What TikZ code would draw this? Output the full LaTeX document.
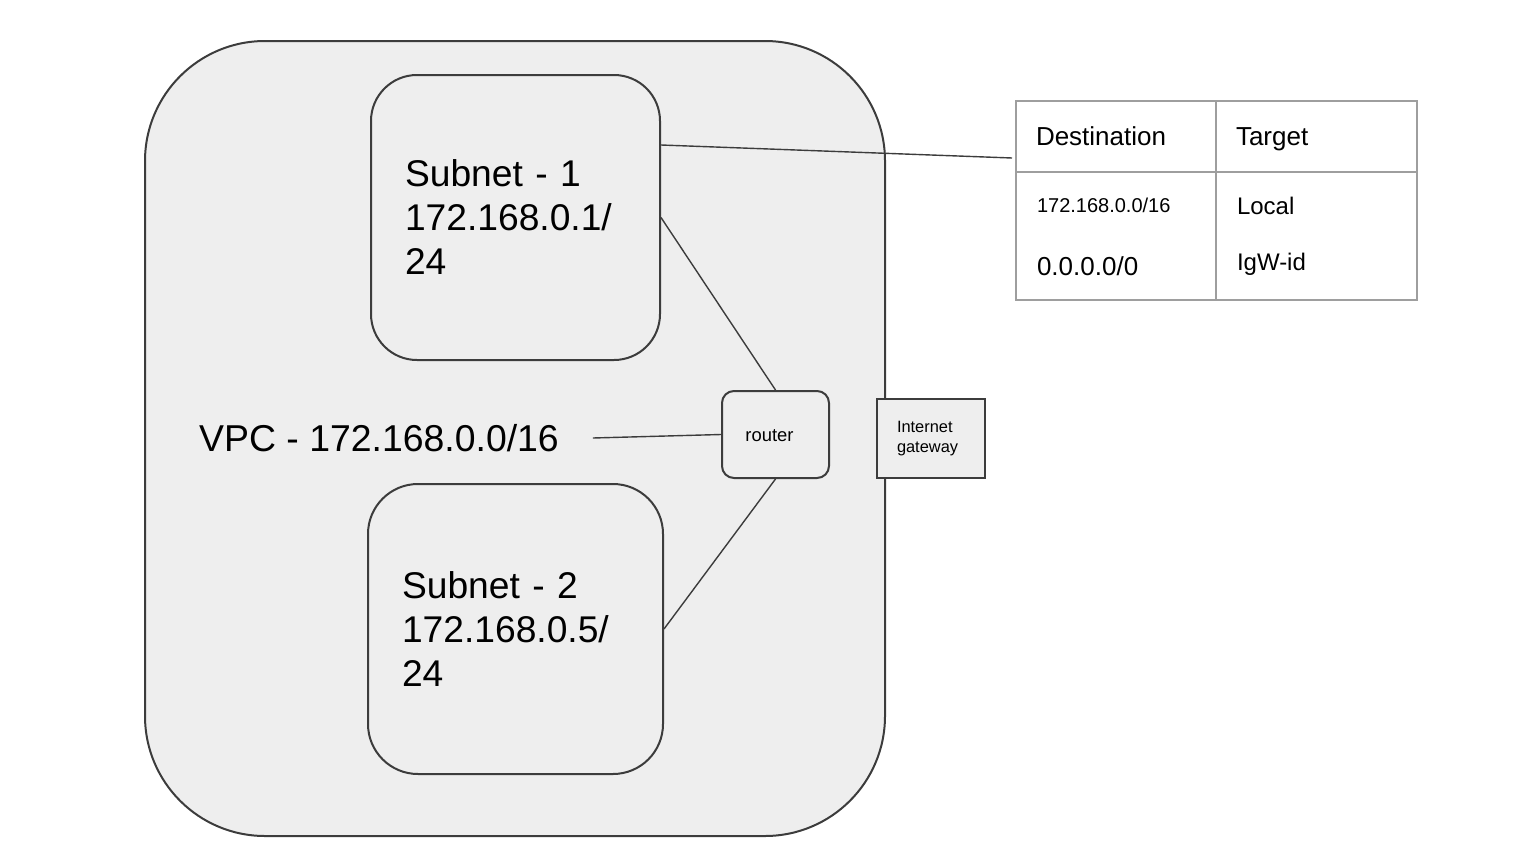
\documentclass[tikz,border=0pt]{standalone}
\usepackage{fontspec}
\setmainfont{Liberation Sans}
\usetikzlibrary{positioning}
\definecolor{boxfill}{HTML}{EEEEEE}
\definecolor{boxline}{HTML}{3C3C3C}
\definecolor{tblline}{HTML}{9E9E9E}

\begin{document}
\begin{tikzpicture}[x=0.5pt, y=-0.5pt, line width=1pt, node distance=0pt,
    zone/.style={draw=boxline, fill=boxfill},
    subnet/.style={zone, inner xsep=17pt, inner ysep=0pt, align=left, font=\fontsize{18.6}{22}\selectfont},
    link/.style={draw=boxline, line width=0.7pt},
    cell/.style={draw=tblline, line width=0.8pt, outer sep=0pt, inner xsep=10pt, inner ysep=0pt, align=left,
        text height=9.4pt, text depth=0pt, font=\fontsize{13}{15}\selectfont},
    entry/.style={anchor=base west, inner sep=0pt, font=\fontsize{12}{14}\selectfont}]
    \useasboundingbox (0,0) rectangle (1525,846);

    % VPC
    \node[zone, rounded corners=60pt, minimum width=370pt, minimum height=397.5pt] (vpc) at (515,438.5) {};
    \node[font=\fontsize{18.7}{22}\selectfont, inner xsep=16.5pt] (vpclbl) at (379,438) {VPC - 172.168.0.0/16};

    % Subnets
    \node[subnet, rounded corners=23pt, text width=110.5pt, minimum height=142.5pt] (sub1) at (515.5,217.5) {Subnet - 1\\172.168.0.1/\\24};
    \node[subnet, rounded corners=25pt, text width=113.5pt, minimum height=145pt] (sub2) at (515.5,629) {Subnet - 2\\172.168.0.5/\\24};

    % Router and gateway
    \node[zone, rounded corners=6pt, minimum width=53.5pt, minimum height=43.5pt, text height=7pt, text depth=0pt, font=\fontsize{9.2}{11}\selectfont] (router) at (775.5,434.5) {router\kern6pt\relax};
    \node[zone, minimum height=39.5pt, inner xsep=10pt, text width=34pt, align=left, font=\fontsize{8.2}{10}\selectfont] (igw) at (931,438.5) {Internet\\gateway};

    % Route table
    \node[cell, text width=80pt, minimum height=35.5pt, anchor=north west] (hdest) at (1016,101) {Destination};
    \node[cell, text width=80.5pt, minimum height=35.5pt, right=of hdest] (htgt) {Target};
    \node[cell, text width=80pt, minimum height=64pt, below=of hdest] (bdest) {};
    \node[cell, text width=80.5pt, minimum height=64pt, below=of htgt] (btgt) {};
    \node[entry, font=\fontsize{10}{12}\selectfont] (net1) at (1036,212) {172.168.0.0/16};
    \node[entry, font=\fontsize{13}{15}\selectfont] (net2) at (1036,275) {0.0.0.0/0};
    \node[entry] (tgt1) at (1236,214) {Local};
    \node[entry] (tgt2) at (1236,270) {IgW-id};

    % Links
    \coordinate (rtend) at (1012,158);
    \draw[link] ([yshift=36.25pt]sub1.east) -- (rtend);
    \draw[link] (sub1.east) -- (router.north);
    \draw[link] (router.south) -- (sub2.east);
    \draw[link] (vpclbl.east) -- (router.west);
\end{tikzpicture}
\end{document}
